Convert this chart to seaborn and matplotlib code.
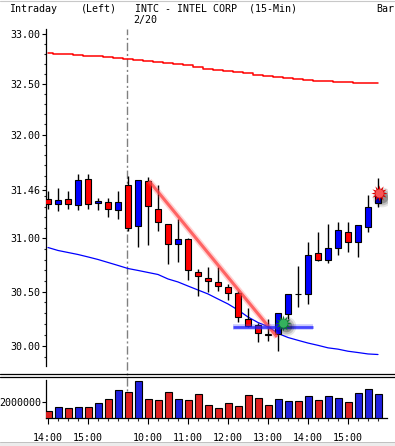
import numpy as np
import pandas as pd
import matplotlib
matplotlib.use("Agg")
import matplotlib.pyplot as plt
import seaborn as sns
from matplotlib.ticker import FixedLocator, FixedFormatter, NullFormatter
from matplotlib.lines import Line2D
from matplotlib.patches import Rectangle

# ---------------- data ----------------
bars = list(range(34))
opens = [31.38, 31.33, 31.38, 31.32, 31.57, 31.34, 31.35, 31.27, 31.51, 31.12,
         31.55, 31.28, 31.14, 30.95, 30.99, 30.68, 30.63, 30.59, 30.54, 30.49,
         30.25, 30.19, 30.11, 30.11, 30.29, 30.48, 30.48, 30.86, 30.80, 30.91,
         31.06, 30.97, 31.11, 31.34]
closes = [31.33, 31.37, 31.33, 31.56, 31.33, 31.36, 31.28, 31.35, 31.10, 31.56,
          31.31, 31.16, 30.95, 30.99, 30.70, 30.65, 30.60, 30.55, 30.49, 30.26,
          30.18, 30.12, 30.10, 30.30, 30.48, 30.48, 30.84, 30.80, 30.91, 31.08,
          30.97, 31.13, 31.30, 31.45]
highs = [31.45, 31.48, 31.45, 31.62, 31.62, 31.39, 31.39, 31.45, 31.60, 31.56,
         31.59, 31.51, 31.14, 31.18, 31.00, 30.71, 30.73, 30.73, 30.57, 30.51,
         30.35, 30.21, 30.25, 30.30, 30.48, 30.74, 30.97, 31.06, 31.14, 31.16,
         31.16, 31.13, 31.41, 31.58]
lows = [31.28, 31.26, 31.28, 31.27, 31.28, 31.27, 31.20, 31.18, 31.07, 30.92,
        30.94, 31.07, 30.76, 30.78, 30.61, 30.46, 30.50, 30.51, 30.42, 30.22,
        30.17, 30.03, 30.04, 29.95, 30.25, 30.36, 30.38, 30.79, 30.77, 30.84,
        30.87, 30.82, 31.06, 31.30]
volumes = [0.875e6, 1.375e6, 1.2e6, 1.375e6, 1.375e6, 1.875e6, 2.375e6, 3.46e6, 3.2e6, 4.6e6,
           2.375e6, 2.2e6, 3.2e6, 2.375e6, 2.2e6, 2.96e6, 1.625e6, 1.2e6, 1.875e6, 1.46e6,
           2.875e6, 2.46e6, 1.6e6, 2.35e6, 2.12e6, 2.12e6, 2.7e6, 2.2e6, 2.7e6, 2.46e6,
           1.96e6, 3.1e6, 3.6e6, 3.0e6]
ma_long = [32.806, 32.799, 32.799, 32.789, 32.779, 32.779, 32.766, 32.756, 32.746, 32.739,
           32.726, 32.716, 32.706, 32.696, 32.689, 32.672, 32.652, 32.639, 32.626, 32.616,
           32.606, 32.586, 32.576, 32.566, 32.556, 32.546, 32.537, 32.530, 32.530, 32.520,
           32.520, 32.510, 32.510, 32.510]
ma_short = [30.914, 30.886, 30.867, 30.848, 30.825, 30.801, 30.773, 30.745, 30.716, 30.698,
            30.679, 30.660, 30.618, 30.590, 30.552, 30.515, 30.478, 30.431, 30.385, 30.329,
            30.264, 30.213, 30.176, 30.112, 30.075, 30.049, 30.024, 30.003, 29.980, 29.968,
            29.949, 29.937, 29.924, 29.919]

price_ticks = [30.00, 30.50, 31.00, 31.46, 32.00, 32.50, 33.00]
price_labels = ["30.00", "30.50", "31.00", "31.46", "32.00", "32.50", "33.00"]
time_tick_bars = [0, 4, 10, 14, 18, 22, 26, 30]
time_labels = ["14:00", "15:00", "10:00", "11:00", "12:00", "13:00", "14:00", "15:00"]
vol_ticks = [2000000]
vol_labels = ["2000000"]
day_break = 7.93
date_label = "2/20"

trend_x = [10.1, 22.9]
trend_y = [31.55, 30.08]
support_x = [18.5, 26.5]
support_y = [30.174, 30.174]
green_sig = (23.5, 30.21)
red_sig = (33.1, 31.43)

# ---------------- style ----------------
sns.set_theme(style="white")
plt.rcParams['font.family'] = ['DejaVu Sans Mono']
FS = 7.2
RED = "#ff0000"
BLUE = "#0000ff"

W, H = 395, 446
fig = plt.figure(figsize=(W / 100, H / 100), dpi=100)
fig.patch.set_facecolor("white")


def fx(px):
    return px / W


def fy(py):
    return 1 - py / H


X_L, X_R = 46, 387
MAIN_T, MAIN_B = 29, 366
VOL_T, VOL_B = 380, 418

ax = fig.add_axes([fx(X_L), fy(MAIN_B), (X_R - X_L) / W, (MAIN_B - MAIN_T) / H])
axv = fig.add_axes([fx(X_L), fy(VOL_B), (X_R - X_L) / W, (VOL_B - VOL_T) / H])
for a in (ax, axv):
    a.set_facecolor("none")

df = pd.DataFrame({"bar": bars, "open": opens, "close": closes, "high": highs,
                   "low": lows, "volume": volumes})
df["dir"] = np.where(df["close"] > df["open"], "up", "down")
pal = {"up": BLUE, "down": RED}

# ---------------- main panel ----------------
ax.set_yscale("log")
sns.lineplot(x=bars, y=ma_long, ax=ax, color=RED, lw=1.1, drawstyle="steps-mid", zorder=2)
sns.lineplot(x=bars, y=ma_short, ax=ax, color=BLUE, lw=0.9, zorder=2)

ax.vlines(df["bar"], df["low"], df["high"], color="black", lw=1.0, zorder=3)
body_bot = np.minimum(df["open"], df["close"])
body_h = np.abs(df["close"] - df["open"])
ax.bar(df["bar"], body_h, bottom=body_bot, width=0.6,
       color=[pal[d] for d in df["dir"]], edgecolor="black", linewidth=0.8, zorder=4)

# annotation lines
ax.plot(trend_x, trend_y, color=(1, 0.3, 0.3), alpha=0.25, lw=4.5, solid_capstyle="butt", zorder=5)
ax.plot(trend_x, trend_y, color=(1, 0.25, 0.25), alpha=0.75, lw=2.2, solid_capstyle="butt", zorder=5)
ax.plot(support_x, support_y, color=(0.3, 0.3, 1), alpha=0.3, lw=4.0, solid_capstyle="butt", zorder=5)
ax.plot(support_x, support_y, color=(0.1, 0.1, 1), alpha=0.75, lw=2.0, solid_capstyle="butt", zorder=5)

# signal bursts with soft shadows
for (sx, sy), col, inner in ((green_sig, "#0b7a2e", "#3fbf6a"), (red_sig, "#e00000", "#ff6a6a")):
    for s, al in ((200, 0.10), (130, 0.16), (70, 0.25)):
        ax.scatter([sx + 0.3], [sy * 0.9990], s=s, marker="o", color="black", alpha=al,
                   lw=0, zorder=6)
    ax.scatter([sx], [sy], s=140, marker=(12, 1, 0), color=col, lw=0, zorder=7)
    ax.scatter([sx], [sy], s=35, marker="o", color=inner, alpha=0.8, lw=0, zorder=8)

ax.axvline(day_break, ymin=-(VOL_B - MAIN_B) / (MAIN_B - MAIN_T), ymax=1, clip_on=False,
           color="#808080", lw=1.0, linestyle=(0, (6, 2, 1.5, 2)), zorder=1)

ax.set_xlim(-0.2, 33.9)
ax.set_ylim(29.814, 33.050)
ax.yaxis.set_major_locator(FixedLocator(price_ticks))
ax.yaxis.set_major_formatter(FixedFormatter(price_labels))
minor = [round(29.9 + 0.1 * k, 2) for k in range(32)]
minor = [m for m in minor if all(abs(m - t) > 0.02 for t in price_ticks)]
ax.yaxis.set_minor_locator(FixedLocator(minor))
ax.yaxis.set_minor_formatter(NullFormatter())
ax.tick_params(axis="y", which="major", direction="out", length=2.6, width=0.8,
               pad=1.2, labelsize=FS, colors="black", left=True)
ax.tick_params(axis="y", which="minor", direction="out", length=1.3, width=0.8, left=True)
ax.set_xticks([])
for sp in ("top", "right", "bottom"):
    ax.spines[sp].set_visible(False)
ax.spines["left"].set_color("black")
ax.spines["left"].set_linewidth(0.9)
ax.set_xlabel("")
ax.set_ylabel("")

# ---------------- volume panel ----------------
sns.barplot(data=df, x="bar", y="volume", hue="dir", palette=pal, dodge=False,
            native_scale=True, width=0.7, edgecolor="black", linewidth=0.8,
            errorbar=None, legend=False, ax=axv, zorder=3)
axv.set_xlim(-0.2, 33.9)
axv.set_ylim(0, 4.75e6)
axv.set_xticks(time_tick_bars)
axv.set_xticklabels(time_labels)
axv.set_xticks(bars, minor=True)
axv.set_yticks(vol_ticks)
axv.set_yticklabels(vol_labels)
axv.tick_params(axis="x", which="major", direction="out", length=4.5, width=0.8,
                pad=6.0, labelsize=FS, colors="black", bottom=True)
axv.tick_params(axis="x", which="minor", direction="out", length=2.2, width=0.8, bottom=True)
axv.tick_params(axis="y", which="major", direction="out", length=2.6, width=0.8,
                pad=0.8, labelsize=FS, colors="black", left=True)
for sp in ("top", "right"):
    axv.spines[sp].set_visible(False)
for sp in ("left", "bottom"):
    axv.spines[sp].set_color("black")
    axv.spines[sp].set_linewidth(0.9)
axv.set_xlabel("")
axv.set_ylabel("")

# ---------------- frame pieces & header ----------------
for yy in (374, 376.5):
    fig.add_artist(Line2D([0, 1], [fy(yy), fy(yy)], color="black", lw=0.9))
fig.add_artist(Line2D([0, 1], [fy(0.5), fy(0.5)], color="#c8c8c8", lw=0.8))
fig.add_artist(Rectangle((0, 0), 1, fy(442), transform=fig.transFigure,
                         facecolor="#ececec", edgecolor="none"))
fig.add_artist(Line2D([0, 1], [fy(442), fy(442)], color="#c0c0c0", lw=0.7))

hdr = dict(fontsize=FS, va="center", ha="left", color="black")
fig.text(fx(9), fy(8.5), "Intraday", **hdr)
fig.text(fx(81), fy(8.5), "(Left)", **hdr)
fig.text(fx(135), fy(8.5), "INTC - INTEL CORP  (15-Min)", **hdr)
fig.text(fx(376), fy(8.5), "Bar", **hdr)
fig.text(fx(133), fy(20), date_label, **hdr)

fig.savefig("out.png", dpi=100, facecolor="white")
